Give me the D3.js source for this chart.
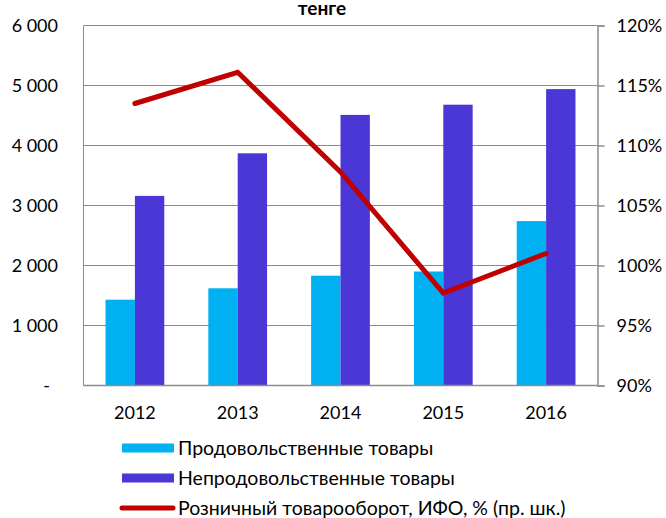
<!DOCTYPE html>
<html>
<head>
<meta charset="utf-8">
<title>Розничный товарооборот</title>
<script src="https://d3js.org/d3.v7.min.js"></script>
<style>
  body { margin: 0; background: #fff; }
  svg text { font-family: Lato, "Open Sans", sans-serif; fill: #000; }
  .grid line { stroke: #8c8c8c; stroke-width: 1; }
</style>
</head>
<body>
<svg width="666" height="518"></svg>
<script>
// data
var years = ["2012", "2013", "2014", "2015", "2016"];
var food = [1430, 1620, 1830, 1900, 2740];
var nonFood = [3160, 3870, 4510, 4680, 4940];
var retailPct = [113.5, 116.1, 107.8, 97.7, 101.0];
var leftTicks = [0, 1000, 2000, 3000, 4000, 5000, 6000];
var rightTicks = [90, 95, 100, 105, 110, 115, 120];
var seriesNames = ["Продовольственные товары", "Непродовольственные товары", "Розничный товарооборот, ИФО, % (пр. шк.)"];

var margin = {left: 83.5, right: 597.5, top: 25.5, bottom: 385.5};
var svg = d3.select("svg");

var x = d3.scaleBand().domain(years).range([margin.left, margin.right]);
var y = d3.scaleLinear().domain([0, 6000]).range([margin.bottom, margin.top]);
var y2 = d3.scaleLinear().domain([90, 120]).range([margin.bottom, margin.top]);

var barW = x.bandwidth() / 3.5;

// gridlines
svg.append("g").attr("class", "grid")
  .selectAll("line").data(leftTicks).enter().append("line")
  .attr("x1", margin.left).attr("x2", margin.right)
  .attr("y1", function(d){ return y(d); })
  .attr("y2", function(d){ return y(d); });

// left axis line
svg.append("line").attr("x1", margin.left).attr("x2", margin.left)
  .attr("y1", margin.top).attr("y2", margin.bottom)
  .attr("stroke", "#8c8c8c");

// bars
svg.append("g").selectAll("rect").data(food).enter().append("rect")
  .attr("x", function(d, i){ return x(years[i]) + x.bandwidth() / 2 - barW; })
  .attr("width", barW)
  .attr("y", function(d){ return y(d); })
  .attr("height", function(d){ return margin.bottom - y(d); })
  .attr("fill", "#00b0f0");

svg.append("g").selectAll("rect").data(nonFood).enter().append("rect")
  .attr("x", function(d, i){ return x(years[i]) + x.bandwidth() / 2; })
  .attr("width", barW)
  .attr("y", function(d){ return y(d); })
  .attr("height", function(d){ return margin.bottom - y(d); })
  .attr("fill", "#4b37d5");

// line
var line = d3.line()
  .x(function(d, i){ return x(years[i]) + x.bandwidth() / 2; })
  .y(function(d){ return y2(d); });
svg.append("path").datum(retailPct)
  .attr("d", line)
  .attr("fill", "none")
  .attr("stroke", "#c00000")
  .attr("stroke-width", 5)
  .attr("stroke-linecap", "round")
  .attr("stroke-linejoin", "miter");

// left axis labels
svg.append("g").selectAll("text").data(leftTicks).enter().append("text")
  .attr("x", function(d){ return d === 0 ? 50 : 58; })
  .attr("y", function(d){ return y(d); })
  .attr("dy", "0.35em")
  .attr("text-anchor", "end")
  .style("font-size", "18px")
  .text(function(d){ return d === 0 ? "-" : d3.format(",")(d).replace(",", " "); });

// right axis
var rAxis = svg.append("g")
  .attr("transform", "translate(" + margin.right + ",0)")
  .call(d3.axisRight(y2).tickValues(rightTicks).tickSize(7).tickPadding(12)
    .tickFormat(function(d){ return d + "%"; }));
rAxis.select(".domain").attr("stroke", "#8c8c8c").attr("stroke-width", 1.5);
rAxis.selectAll(".tick line").attr("stroke", "#8c8c8c").attr("stroke-width", 1.5);
rAxis.selectAll(".tick text").style("font-size", "18px").attr("fill", "#000")
  .style("font-family", "Lato, 'Open Sans', sans-serif");

// bottom axis line
svg.append("line").attr("x1", margin.left).attr("x2", margin.right)
  .attr("y1", margin.bottom).attr("y2", margin.bottom)
  .attr("stroke", "#8c8c8c").attr("stroke-width", 1.5);

// category labels
svg.append("g").selectAll("text").data(years).enter().append("text")
  .attr("x", function(d){ return x(d) + x.bandwidth() / 2; })
  .attr("y", 413)
  .attr("dy", "0.35em")
  .attr("text-anchor", "middle")
  .style("font-size", "18px")
  .text(function(d){ return d; });

// title
svg.append("text").attr("x", 322).attr("y", 15)
  .attr("text-anchor", "middle")
  .style("font-size", "19px").style("font-weight", "bold")
  .text("тенге");

// legend
var legend = svg.append("g");
var rowY = [448, 478, 508];
legend.append("rect").attr("x", 122).attr("y", rowY[0] - 4.5).attr("width", 52).attr("height", 9).attr("fill", "#00b0f0");
legend.append("rect").attr("x", 122).attr("y", rowY[1] - 4.5).attr("width", 52).attr("height", 9).attr("fill", "#4b37d5");
legend.append("line").attr("x1", 122).attr("x2", 173).attr("y1", rowY[2]).attr("y2", rowY[2])
  .attr("stroke", "#c00000").attr("stroke-width", 5).attr("stroke-linecap", "round");
legend.selectAll("text").data(seriesNames).enter().append("text")
  .attr("x", 178)
  .attr("y", function(d, i){ return rowY[i]; })
  .attr("dy", "0.35em")
  .style("font-size", "19.5px")
  .text(function(d){ return d; });
</script>
</body>
</html>
